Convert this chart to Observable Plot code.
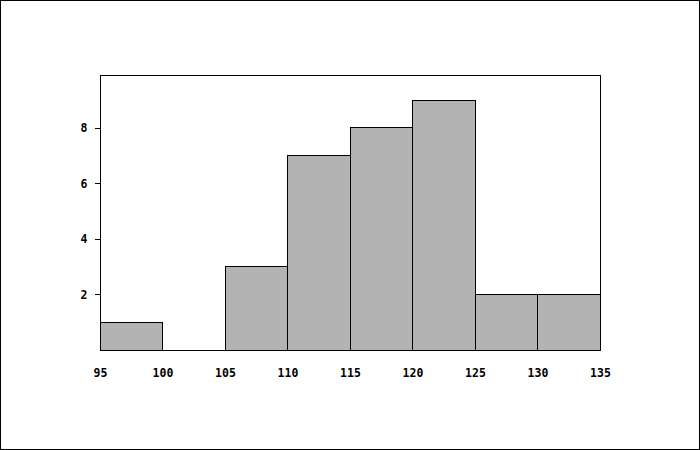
<!DOCTYPE html>
<html>
<head>
<meta charset="utf-8">
<script src="https://cdn.jsdelivr.net/npm/d3@7"></script>
<script src="https://cdn.jsdelivr.net/npm/@observablehq/plot@0.6"></script>
<style>
  html, body { margin: 0; padding: 0; background: #fff; }
  #wrap { position: relative; width: 700px; height: 450px; }
  #border { position: absolute; left: 0; top: 0; width: 700px; height: 450px; box-sizing: border-box; border: 1px solid #000; pointer-events: none; }
</style>
</head>
<body>
<div id="wrap"><div id="border"></div></div>
<script>
const binStarts = [95, 100, 105, 110, 115, 120, 125, 130];
const binEnds   = [100, 105, 110, 115, 120, 125, 130, 135];
const counts    = [1, 0, 3, 7, 8, 9, 2, 2];
const xTicks = [95, 100, 105, 110, 115, 120, 125, 130, 135];
const yTicks = [2, 4, 6, 8];

const data = binStarts.map((s, i) => ({x1: s, x2: binEnds[i], y: counts[i]}));

const chart = Plot.plot({
  width: 700,
  height: 450,
  marginLeft: 100,
  marginRight: 100,
  marginTop: 75,
  marginBottom: 100,
  style: {fontFamily: "'DejaVu Sans Mono', monospace", fontSize: "11.5px", fontWeight: "bold", background: "#fff", color: "#000"},
  x: {domain: [95, 135]},
  y: {domain: [0, 9.9]},
  marks: [
    Plot.rectY(data.filter(d => d.y > 0), {x1: "x1", x2: "x2", y: "y", fill: "#b3b3b3", stroke: "#000", strokeWidth: 1, inset: 0, shapeRendering: "crispEdges"}),
    Plot.frame({stroke: "#000", strokeWidth: 1, shapeRendering: "crispEdges"}),
    Plot.axisX({ticks: xTicks, tickSize: 0, tickPadding: 18, tickFormat: d => String(d), label: null, fontWeight: "bold"}),
    Plot.axisY({ticks: yTicks, tickSize: 5, tickPadding: 8, tickFormat: d => String(d), label: null, strokeOpacity: 1, fontWeight: "bold", shapeRendering: "crispEdges"})
  ]
});
document.getElementById("wrap").insertBefore(chart, document.getElementById("border"));
</script>
</body>
</html>
